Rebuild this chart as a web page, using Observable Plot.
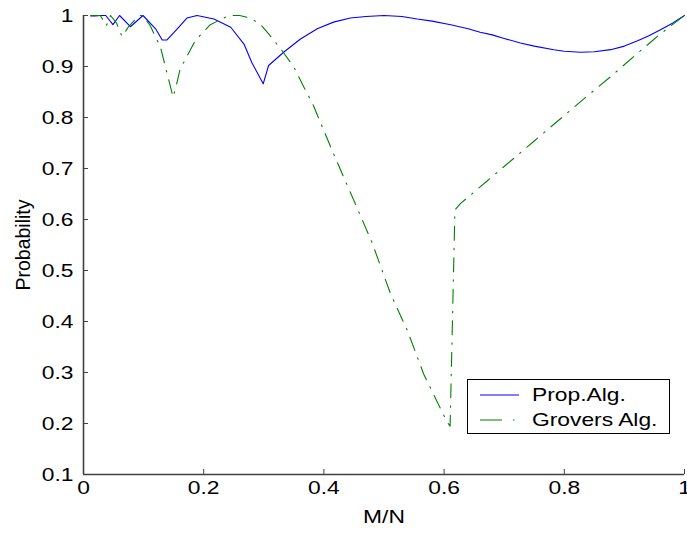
<!DOCTYPE html>
<html>
<head>
<meta charset="utf-8">
<script src="https://cdn.jsdelivr.net/npm/d3@7"></script>
<script src="https://cdn.jsdelivr.net/npm/@observablehq/plot@0.6"></script>
<style>
  html, body { margin: 0; padding: 0; background: #fff; }
  #wrap { position: relative; width: 687px; height: 534px; overflow: hidden; }
  #legend {
    position: absolute; left: 467px; top: 379px; width: 201px; height: 53px;
    border: 1px solid #000; background: #fff;
    font-family: "Liberation Sans", Arial, sans-serif; font-size: 19px; color: #000;
  }
  #legend .row { position: absolute; left: 0; height: 25px; width: 100%; }
  #legend svg { position: absolute; left: 12px; top: 0; }
  #legend span { position: absolute; left: 64px; top: 1px; white-space: nowrap; transform: scaleX(1.2); transform-origin: 0 50%; }
</style>
</head>
<body>
<div id="wrap"><div id="chart"></div><div id="legend"></div></div>
<script>
// Prop.Alg. (solid blue)
const propX = [0.012,0.020,0.028,0.037,0.049,0.060,0.078,0.099,0.120,0.131,0.139,0.156,0.172,0.189,0.217,0.245,0.267,0.280,0.299,0.308,0.333,0.361,0.389,0.416,0.444,0.470,0.500,0.530,0.555,0.580,0.611,0.640,0.660,0.680,0.700,0.727,0.750,0.7825,0.800,0.827,0.850,0.877,0.900,0.921,0.940,0.960,0.980,1.000];
const propY = [0.999,0.999,1.000,1.000,0.982,1.000,0.978,1.000,0.974,0.952,0.952,0.974,0.995,1.000,0.993,0.977,0.944,0.908,0.866,0.902,0.928,0.954,0.974,0.987,0.995,0.998,1.000,0.998,0.993,0.989,0.982,0.974,0.967,0.962,0.955,0.946,0.940,0.933,0.930,0.928,0.929,0.933,0.940,0.950,0.960,0.972,0.985,1.000];
// Grovers Alg. (dash-dot green)
const grovX = [0.012,0.028,0.038,0.045,0.055,0.064,0.075,0.092,0.099,0.111,0.128,0.145,0.149,0.153,0.161,0.170,0.186,0.211,0.242,0.260,0.278,0.295,0.308,0.328,0.350,0.367,0.382,0.416,0.450,0.480,0.511,0.539,0.566,0.597,0.605,0.610,0.618,0.627,0.672,0.750,0.835,0.877,0.918,0.960,1.000];
const grovY = [1.000,1.000,0.980,1.000,0.985,0.959,0.978,1.000,1.000,0.980,0.938,0.859,0.840,0.856,0.896,0.915,0.951,0.982,1.000,1.000,0.995,0.982,0.964,0.935,0.899,0.859,0.825,0.729,0.637,0.555,0.454,0.382,0.297,0.222,0.203,0.195,0.619,0.631,0.676,0.754,0.839,0.880,0.922,0.964,1.000];
const seriesNames = ["Prop.Alg.", "Grovers Alg."];
const seriesColors = ["#0000ff", "#008000"];
const xTicks = [0, 0.2, 0.4, 0.6, 0.8, 1];
const yTicks = [0.1, 0.2, 0.3, 0.4, 0.5, 0.6, 0.7, 0.8, 0.9, 1];
const xLabel = "M/N";
const yLabel = "Probability";

const prop = propX.map((x, i) => ({x, y: propY[i]}));
const grov = grovX.map((x, i) => ({x, y: grovY[i]}));
const dashDot = "14,8,1.5,8";

const chart = Plot.plot({
  width: 687, height: 534,
  marginLeft: 83, marginRight: 3, marginTop: 15, marginBottom: 60,
  style: {fontFamily: "'Liberation Sans', Arial, sans-serif", fontSize: "19px", color: "#000", background: "#fff", overflow: "visible"},
  x: {domain: [0, 1]},
  y: {domain: [0.1, 1]},
  marks: [
    Plot.line(prop, {x: "x", y: "y", stroke: seriesColors[0], strokeWidth: 1.1}),
    Plot.line(grov, {x: "x", y: "y", stroke: seriesColors[1], strokeWidth: 1.1, strokeDasharray: dashDot}),
    Plot.axisX({ticks: xTicks, tickFormat: d => String(d), tickSize: -5, tickPadding: 11, stroke: "#404040",
      label: null, fill: "#000"}),
    Plot.axisY({ticks: yTicks, tickFormat: d => String(d), tickSize: -5, tickPadding: 15, stroke: "#404040",
      label: null, fill: "#000"}),
    Plot.ruleX([0], {stroke: "#404040", strokeWidth: 1.6}),
    Plot.ruleY([0.1], {stroke: "#404040", strokeWidth: 1.6}),
    Plot.text([xLabel], {text: d => d, frameAnchor: "bottom", dy: 42, lineAnchor: "middle", fill: "#000"}),
    Plot.text([yLabel], {text: d => d, frameAnchor: "left", textAnchor: "middle", rotate: -90, dx: -60, lineAnchor: "middle", fill: "#000", fontSize: 19.5})
  ]
});
document.getElementById("chart").appendChild(chart);

// widen glyphs horizontally like the reference rendering (text stays real text)
chart.querySelectorAll("text").forEach(t => {
  if (t.textContent === yLabel) return;
  const len = t.getComputedTextLength();
  if (len > 0) {
    t.setAttribute("textLength", (len * 1.2).toFixed(1));
    t.setAttribute("lengthAdjust", "spacingAndGlyphs");
  }
});

// legend
const legend = document.getElementById("legend");
seriesNames.forEach((name, i) => {
  const row = document.createElement("div");
  row.className = "row";
  row.style.top = (3 + i * 25) + "px";
  const ns = "http://www.w3.org/2000/svg";
  const s = document.createElementNS(ns, "svg");
  s.setAttribute("width", 40); s.setAttribute("height", 25);
  const ln = document.createElementNS(ns, "line");
  ln.setAttribute("x1", 0); ln.setAttribute("x2", 39);
  ln.setAttribute("y1", 12); ln.setAttribute("y2", 12);
  ln.setAttribute("stroke", seriesColors[i]);
  ln.setAttribute("stroke-width", 1.1);
  if (i === 1) ln.setAttribute("stroke-dasharray", "22,11,1.5,11");
  s.appendChild(ln);
  const t = document.createElement("span");
  t.textContent = name;
  row.appendChild(s); row.appendChild(t);
  legend.appendChild(row);
});
</script>
</body>
</html>
